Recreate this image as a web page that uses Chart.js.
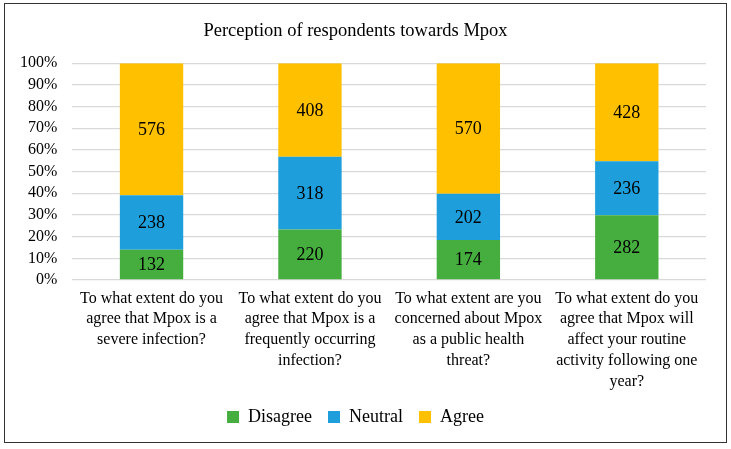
<!DOCTYPE html>
<html>
<head>
<meta charset="utf-8">
<script src="https://cdn.jsdelivr.net/npm/chart.js@4/dist/chart.umd.min.js"></script>
<style>
  body { margin: 0; background: #fff; }
  .frame {
    position: absolute;
    left: 4px;
    top: 3px;
    width: 721px;
    height: 438px;
    border: 1.5px solid #333;
  }
  .frame canvas { display: block; }
</style>
</head>
<body>
<div class="frame">
  <canvas id="mpoxChart" width="721" height="438"></canvas>
</div>
<script>
const categories = [
  ["To what extent do you", "agree that Mpox is a", "severe infection?"],
  ["To what extent do you", "agree that Mpox is a", "frequently occurring", "infection?"],
  ["To what extent are you", "concerned about Mpox", "as a public health", "threat?"],
  ["To what extent do you", "agree that Mpox will", "affect your routine", "activity following one", "year?"]
];
const disagree = [132, 220, 174, 282];
const neutral = [238, 318, 202, 236];
const agree = [576, 408, 570, 428];
const tickLabels = ["0%", "10%", "20%", "30%", "40%", "50%", "60%", "70%", "80%", "90%", "100%"];

const serif = "'Liberation Serif', 'DejaVu Serif', serif";

// totals per question so each bar becomes 100%
const totals = disagree.map((d, i) => d + neutral[i] + agree[i]);
function toPercent(values) {
  return values.map((v, i) => v / totals[i] * 100);
}

// write the raw counts in the middle of each segment
const countLabels = {
  id: "countLabels",
  afterDatasetsDraw(chart) {
    const ctx = chart.ctx;
    ctx.save();
    ctx.font = "18px " + serif;
    ctx.fillStyle = "#000";
    ctx.textAlign = "center";
    ctx.textBaseline = "middle";
    chart.data.datasets.forEach((ds, di) => {
      const meta = chart.getDatasetMeta(di);
      meta.data.forEach((bar, i) => {
        const y = (bar.y + bar.base) / 2;
        ctx.fillText(ds.counts[i], bar.x, y + 1);
      });
    });
    ctx.restore();
  }
};

const ctx = document.getElementById("mpoxChart").getContext("2d");

new Chart(ctx, {
  type: "bar",
  data: {
    labels: categories,
    datasets: [
      { label: "Disagree", data: toPercent(disagree), counts: disagree, backgroundColor: "#46AE3E" },
      { label: "Neutral", data: toPercent(neutral), counts: neutral, backgroundColor: "#1E9FDB" },
      { label: "Agree", data: toPercent(agree), counts: agree, backgroundColor: "#FFC000" }
    ]
  },
  options: {
    responsive: false,
    animation: false,
    categoryPercentage: 1,
    barPercentage: 0.4,
    layout: { padding: { left: 0, right: 20, top: 0, bottom: 6 } },
    scales: {
      x: {
        stacked: true,
        grid: { display: false },
        border: { display: false },
        ticks: {
          color: "#000",
          font: { family: serif, size: 16, lineHeight: 1.3 },
          maxRotation: 0,
          autoSkip: false,
          padding: 0
        }
      },
      y: {
        stacked: true,
        min: 0,
        max: 100,
        grid: { color: "#D9D9D9", lineWidth: 1.3, drawTicks: false },
        border: { display: false },
        ticks: {
          stepSize: 10,
          autoSkip: false,
          color: "#000",
          padding: 15,
          font: { family: serif, size: 16 },
          callback: function(value) {
            return tickLabels[Math.round(value / 10)];
          }
        }
      }
    },
    plugins: {
      title: {
        display: true,
        text: "Perception of respondents towards Mpox",
        color: "#000",
        font: { family: serif, size: 18.5, weight: "normal" },
        padding: { top: 16, bottom: 21 }
      },
      legend: {
        position: "bottom",
        labels: {
          color: "#000",
          font: { family: serif, size: 18 },
          boxWidth: 12,
          boxHeight: 12,
          padding: 16
        }
      },
      tooltip: { enabled: false }
    }
  },
  plugins: [countLabels]
});
</script>
</body>
</html>
